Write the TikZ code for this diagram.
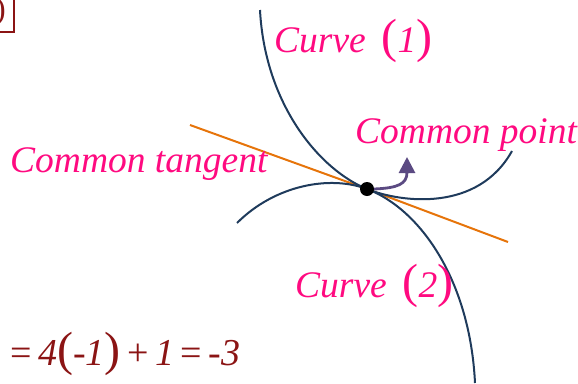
\documentclass[tikz,border=0pt]{standalone}
\usepackage{fontspec}
\setmainfont{Liberation Serif}
\usetikzlibrary{arrows.meta, positioning}
\definecolor{Pink}  {HTML}{FF0A80}
\definecolor{Navy}  {HTML}{1F3B5C}
\definecolor{Tang}  {HTML}{E6740A}
\definecolor{Plum}  {HTML}{5B4A82}
\definecolor{Wine}  {HTML}{8B1414}
\newcommand{\bigpar}[1]{{\fontsize{48}{48}\selectfont\upshape #1}}

\begin{document}
\begin{tikzpicture}[
  x=1pt, y=1pt,
  every node/.style={font=\fontsize{37.5}{40}\selectfont\itshape, inner sep=0pt},
  lbl/.style={text=Pink, anchor=base west},
  eqn/.style={text=Wine, anchor=base west, font=\fontsize{38}{40}\selectfont\itshape},
  curve/.style={draw=Navy, line width=2pt},
  tang/.style={draw=Tang, line width=2pt},
  arr/.style={-{Triangle[length=16pt, width=16pt]}, line width=2.8pt, color=Plum},
]
  \useasboundingbox (0,0) rectangle (578,-383);

  % cut-off box, top left
  \draw[Wine, line width=1.5pt] (-40,10) rectangle (14,-32);
  \node[text=Wine, anchor=east, font=\fontsize{32}{34}\selectfont\upshape] (brk) at (6,-12) {)};

  % common point
  \coordinate (pt) at (367,-189);

  % curves and tangent
  \draw[tang] (190,-125) -- (pt) -- (508,-242);
  \draw[curve] (260,-10) .. controls (265,-105) and (320,-170) .. (pt)
               .. controls (402,-203) and (478,-212) .. (512,-151);
  \draw[curve] (237,-223) .. controls (275,-185) and (330,-175) .. (pt)
               .. controls (420,-209) and (470,-280) .. (475,-383);
  \node[circle, fill=black, minimum size=14pt] (dot) at (pt) {};

  % labels
  \node[lbl] (one)  at (274,-52)  {Curve\hspace{0.42em}\bigpar{(}1\bigpar{)}};
  \node[lbl] (two)  at (295,-297) {Curve\hspace{0.42em}\bigpar{(}2\bigpar{)}};
  \node[lbl] (cpt)  at (355,-143) {Common point};
  \node[lbl] (ctan) at (10,-172)  {Common tangent};

  \coordinate (tip) at (407,-157);
  \draw[arr] (dot.east) .. controls (398,-188) and (407,-184) .. (tip);

  % equation, bottom left
  \node[eqn] (eq) at (10,-365)
    {\textup{=}\hspace{0.17em}4\bigpar{(}-1\bigpar{)}\hspace{0.17em}\textup{+}\hspace{0.17em}1\hspace{0.17em}\textup{=}\hspace{0.17em}-3};
\end{tikzpicture}
\end{document}
